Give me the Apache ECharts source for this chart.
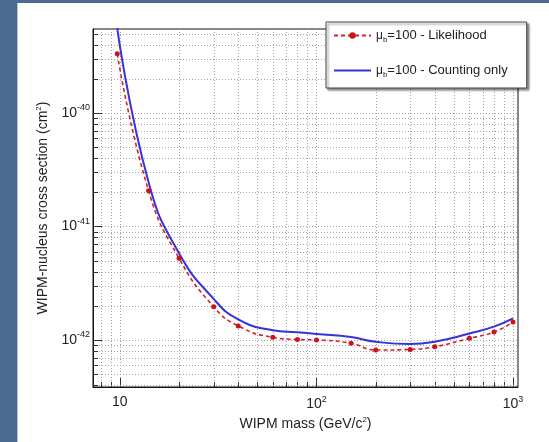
<!DOCTYPE html>
<html><head><meta charset="utf-8">
<script src="https://cdn.jsdelivr.net/npm/echarts@6/dist/echarts.min.js"></script>
<style>html,body{margin:0;padding:0;background:#fff}#c{width:549px;height:442px}</style>
</head><body><div id="c"></div>
<script>
// ---- data ----
// cross sections are stored in units of 1e-42 cm^2 (ECharts rounds values below ~1e-20 to zero)
const Y_UNIT_EXP = -42;
const massLikelihood  = [9.7, 14, 20, 30, 40, 60, 80, 100, 150, 200, 300, 400, 600, 800, 1000];
const sigmaLikelihood = [333, 20.6, 5.25, 1.96, 1.33, 1.055, 1.01, 1.0,
                         0.934, 0.815, 0.826, 0.871, 1.033, 1.175, 1.44];
const massCounting    = [9.7, 14, 20, 30, 40, 60, 80, 100, 150, 200, 300, 400, 600, 800, 1000];
const sigmaCounting   = [560, 24.5, 5.8, 2.3, 1.52, 1.22, 1.17, 1.13,
                         1.06, 0.964, 0.92, 0.964, 1.14, 1.31, 1.55];
const seriesNames = ['μb=100 - Likelihood', 'μb=100 - Counting only'];
const legendTexts = ['=100 - Likelihood', '=100 - Counting only'];
// tick values (y in units of 1e-42 cm^2)
const xMajorTicks = [10, 100, 1000];
const xMinorTicks = [8, 9, 20, 30, 40, 50, 60, 70, 80, 90, 200, 300, 400, 500, 600, 700, 800, 900];
const yMajorTicks = [1, 10, 100];
const yMinorTicks = [0.4, 0.5, 0.6, 0.7, 0.8, 0.9, 2, 3, 4, 5, 6, 7, 8, 9,
                     20, 30, 40, 50, 60, 70, 80, 90, 200, 300, 400, 500];
const xRange = [7.3, 1060];
const yRange = [0.385, 550];
const xTitle = 'WIPM mass (GeV/c{s|2})';
const yTitle = 'WIPM-nucleus cross section (cm{s|2})';

// ---- build ----
const decor = [];
xMajorTicks.forEach(v => decor.push([v, 1, 0, 1]));
xMinorTicks.forEach(v => decor.push([v, 1, 0, 0]));
yMajorTicks.forEach(v => decor.push([100, v, 1, 1]));
yMinorTicks.forEach(v => decor.push([100, v, 1, 0]));

function pow10Exp(v) { const e = Math.log10(v); return Math.abs(e - Math.round(e)) < 1e-6 ? Math.round(e) : null; }

function renderDecor(params, api) {
  const cs = params.coordSys;
  const kind = api.value(2), major = api.value(3);
  const grid = {stroke: '#a4a4a4', lineWidth: 1, lineDash: [1, 2]};
  const tick = {stroke: '#333', lineWidth: 1};
  const tl = major ? 9 : 5;
  const p = api.coord([api.value(0), api.value(1)]);
  if (kind === 0) {
    const x = Math.round(p[0]) + 0.5, b = cs.y + cs.height;
    return {type: 'group', children: [
      {type: 'line', silent: true, shape: {x1: x, y1: cs.y, x2: x, y2: b}, style: grid},
      {type: 'line', silent: true, shape: {x1: x, y1: b, x2: x, y2: b - tl}, style: tick}
    ]};
  }
  const y = Math.round(p[1]) + 0.5;
  return {type: 'group', children: [
    {type: 'line', silent: true, shape: {x1: cs.x, y1: y, x2: cs.x + cs.width, y2: y}, style: grid},
    {type: 'line', silent: true, shape: {x1: cs.x, y1: y, x2: cs.x + tl, y2: y}, style: tick}
  ]};
}

const FONT = '"Liberation Sans", Arial, Helvetica, sans-serif';
const chart = echarts.init(document.getElementById('c'), null, {renderer: 'canvas'});
chart.setOption({
  animation: false,
  backgroundColor: '#ffffff',
  textStyle: {fontFamily: FONT},
  graphic: [
    {type: 'rect', shape: {x: 0, y: 0, width: 17, height: 442}, style: {fill: '#4d6b91'}, z: 100},
    {type: 'rect', shape: {x: 0, y: 0, width: 549, height: 3}, style: {fill: '#4d6b91'}, z: 100},
    {type: 'rect', shape: {x: 17, y: 3, width: 1, height: 439}, style: {fill: '#b5c3d6'}, z: 100}
  ],
  grid: {left: 93, top: 29, right: 31, bottom: 55, show: true, borderColor: '#111', borderWidth: 1, backgroundColor: '#fff'},
  legend: {
    data: [
      {name: seriesNames[0]},
      {name: seriesNames[1], itemStyle: {color: 'rgba(0,0,0,0)', borderWidth: 0, opacity: 0}}
    ],
    orient: 'vertical', left: 326, top: 22,
    padding: [7, 19, 9, 7], itemGap: 20, itemWidth: 37, itemHeight: 8,
    backgroundColor: '#fff', borderColor: '#444', borderWidth: 1,
    shadowColor: 'rgba(0,0,0,0.45)', shadowOffsetX: 2, shadowOffsetY: 2, shadowBlur: 2,
    formatter: name => '{m|μ}{s|b}{t|' + legendTexts[seriesNames.indexOf(name)] + '}',
    textStyle: {
      fontFamily: FONT, color: '#222',
      rich: {
        m: {fontSize: 12, fontFamily: FONT, color: '#222'},
        s: {fontSize: 8, fontFamily: FONT, color: '#222', padding: [9, 0, 0, 0]},
        t: {fontSize: 13, fontFamily: FONT, color: '#222'}
      }
    }
  },
  xAxis: {
    type: 'log', logBase: 10, min: xRange[0], max: xRange[1],
    name: xTitle, nameLocation: 'middle', nameGap: 16,
    nameTextStyle: {fontSize: 14, color: '#222', fontFamily: FONT, verticalAlign: 'top',
      rich: {s: {fontSize: 8, color: '#222', padding: [0, 0, 9, 0]}}},
    axisLine: {show: true, lineStyle: {color: '#111'}},
    axisTick: {show: false}, splitLine: {show: false},
    axisLabel: {
      margin: 8, color: '#222', fontSize: 14,
      formatter: v => { const e = pow10Exp(v); if (e === null) return ''; return e === 1 ? '{b|10}' : '{b|10}{s|' + e + '}'; },
      rich: {b: {fontSize: 14, color: '#222', fontFamily: FONT}, s: {fontSize: 9, color: '#222', fontFamily: FONT, padding: [0, 0, 9, 0]}}
    }
  },
  yAxis: {
    type: 'log', logBase: 10, min: yRange[0], max: yRange[1],
    name: yTitle, nameLocation: 'middle', nameGap: 38, nameRotate: 90,
    nameTextStyle: {fontSize: 14, color: '#222', fontFamily: FONT,
      rich: {s: {fontSize: 8, color: '#222', padding: [0, 0, 9, 0]}}},
    axisLine: {show: true, lineStyle: {color: '#111'}},
    axisTick: {show: false}, splitLine: {show: false},
    axisLabel: {
      margin: 3, color: '#222', fontSize: 14,
      formatter: v => { const e = pow10Exp(v); if (e === null) return ''; return '{b|10}{s|' + (e + Y_UNIT_EXP) + '}'; },
      rich: {b: {fontSize: 14, color: '#222', fontFamily: FONT}, s: {fontSize: 9, color: '#222', fontFamily: FONT, padding: [0, 0, 10, 0]}}
    }
  },
  series: [
    {type: 'custom', name: 'decor', data: decor, encode: {x: 0, y: 1}, renderItem: renderDecor, z: 1, silent: true},
    {
      type: 'line', name: seriesNames[0], z: 4,
      data: massLikelihood.map((m, i) => [m, sigmaLikelihood[i]]),
      smooth: 0.5,
      symbol: 'circle', symbolSize: 5, showSymbol: true,
      itemStyle: {color: '#c8141e'},
      lineStyle: {color: '#d8202a', width: 1.6, type: [4, 3]}
    },
    {
      type: 'line', name: seriesNames[1], z: 3,
      data: massCounting.map((m, i) => [m, sigmaCounting[i]]),
      smooth: 0.5,
      symbol: 'none',
      itemStyle: {color: '#3434d8'},
      lineStyle: {color: '#3434d8', width: 2}
    }
  ]
});
</script></body></html>
